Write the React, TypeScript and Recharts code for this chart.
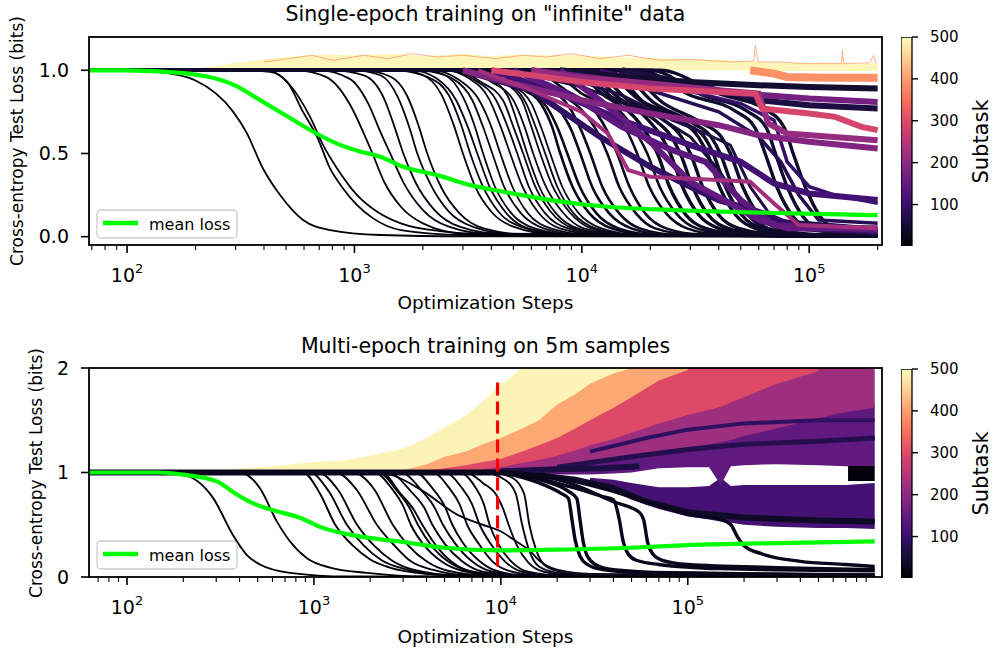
import React from 'react';
import { ComposedChart, BarChart, Bar, Line, Area, XAxis, YAxis } from 'recharts';

type Pt = [number, number];

const FONT = "'DejaVu Sans', 'Liberation Sans', sans-serif";

// ---------------- text ----------------
const topTitle = 'Single-epoch training on "infinite" data';
const bottomTitle = 'Multi-epoch training on 5m samples';
const xLabel = 'Optimization Steps';
const yLabel = 'Cross-entropy Test Loss (bits)';
const legendLabel = 'mean loss';
const cbarLabel = 'Subtask';

// ---------------- axes ----------------
const topXDomain = [68, 209000];
const topYDomain = [-0.05, 1.2];
const topMajorTicks = [100, 1000, 10000, 100000];
const topMinorTicks = [70, 80, 90, 200, 300, 400, 500, 600, 700, 800, 900, 2000, 3000, 4000, 5000, 6000, 7000, 8000, 9000, 20000, 30000, 40000, 50000, 60000, 70000, 80000, 90000, 200000];
const topYTicks = [0, 0.5, 1.0];

const botXDomain = [62.6, 1094000];
const botYDomain = [0, 2];
const botMajorTicks = [100, 1000, 10000, 100000];
const botMinorTicks = [70, 80, 90, 200, 300, 400, 500, 600, 700, 800, 900, 2000, 3000, 4000, 5000, 6000, 7000, 8000, 9000, 20000, 30000, 40000, 50000, 60000, 70000, 80000, 90000, 200000, 300000, 400000, 500000, 600000, 700000, 800000, 900000];
const botYTicks = [0, 1, 2];

const cbarTicks = [100, 200, 300, 400, 500];
const cbarDomain = [1, 500];

// ---------------- top panel: single epoch ----------------
const topMeanLoss: Pt[] = [[68, 1], [100, 1], [171, 0.984], [293, 0.914], [396, 0.81], [521, 0.713], [656, 0.632], [863, 0.552], [1060, 0.512], [1300, 0.48], [1636, 0.42], [2310, 0.37], [3230, 0.31], [4500, 0.27], [7260, 0.22], [12940, 0.18], [25400, 0.16], [40600, 0.15], [85000, 0.14], [200000, 0.13]];

const topBandSteps = [150, 200, 250, 300, 400, 500, 700, 1000, 1500, 2000, 3000, 4000, 5000, 7000, 10000, 15000, 20000, 30000, 40000, 50000, 60000, 70000, 80000, 100000, 130000, 160000, 200000];
const topBandHi = [1.0, 1.01, 1.025, 1.045, 1.065, 1.08, 1.095, 1.09, 1.1, 1.085, 1.1, 1.085, 1.095, 1.09, 1.09, 1.075, 1.075, 1.065, 1.065, 1.055, 1.055, 1.045, 1.045, 1.04, 1.045, 1.035, 1.04];
const topBandLo = [1, 1, 1, 1, 1, 1, 1, 1, 1, 1, 1, 1, 1, 1, 1, 1, 1, 1, 1, 1, 0.995, 0.995, 0.995, 0.995, 0.995, 0.995, 0.995];
const topBandSubtask = 492;

const topSpikes: Pt[] = [[400, 1.05], [650, 1.09], [800, 1.06], [1100, 1.09], [1400, 1.07], [1800, 1.1], [2300, 1.08], [3000, 1.09], [4200, 1.07], [5500, 1.09], [7000, 1.08], [9000, 1.1], [12000, 1.07], [16000, 1.09], [22000, 1.06], [30000, 1.065], [45000, 1.05], [57000, 1.055], [58000, 1.15], [59500, 1.05], [75000, 1.05], [95000, 1.04], [139000, 1.04], [140000, 1.12], [142000, 1.04], [185000, 1.045], [192000, 1.09], [197000, 1.04]];
const topSpikesSubtask = 400;

const topBlack: Pt[][] = [
  [[68, 1], [103, 1], [171, 0.97], [199, 0.94], [293, 0.75], [334, 0.63], [396, 0.41], [471, 0.25], [594, 0.1], [781, 0.04], [1300, 0.01], [3000, 0.002], [200000, 0]],
  [[68, 1], [321, 1], [426, 0.99], [506, 0.93], [594, 0.75], [685, 0.6], [781, 0.41], [891, 0.29], [1027, 0.19], [1209, 0.11], [1600, 0.04], [3000, 0.01], [200000, 0]],
  [[68, 1], [413, 1], [521, 0.91], [638, 0.72], [728, 0.55], [839, 0.41], [1027, 0.25], [1259, 0.15], [1600, 0.08], [2500, 0.03], [5000, 0.005], [200000, 0]],
  [[68, 1], [560, 1], [750, 0.96], [950, 0.8], [1100, 0.62], [1200, 0.5], [1350, 0.33], [1600, 0.18], [2000, 0.08], [3000, 0.02], [200000, 0]],
  [[68, 1], [700, 1], [950, 0.95], [1150, 0.8], [1300, 0.63], [1436, 0.5], [1650, 0.32], [2000, 0.16], [2600, 0.06], [4000, 0.015], [200000, 0]],
  [[68, 1], [800, 1], [1100, 0.97], [1350, 0.83], [1500, 0.66], [1640, 0.5], [1850, 0.33], [2250, 0.16], [2900, 0.06], [4500, 0.015], [200000, 0]],
  [[68, 1], [1000, 1], [1300, 0.97], [1550, 0.84], [1750, 0.65], [1890, 0.5], [2150, 0.32], [2600, 0.15], [3300, 0.06], [5000, 0.015], [200000, 0]],
  [[68, 1], [1100, 1], [1450, 0.96], [1700, 0.85], [1900, 0.68], [2090, 0.5], [2400, 0.3], [2900, 0.14], [3700, 0.05], [6000, 0.01], [200000, 0]],
  [[68, 1], [1500, 1], [2000, 0.97], [2400, 0.86], [2750, 0.66], [3000, 0.5], [3400, 0.3], [4000, 0.15], [5000, 0.06], [7500, 0.015], [200000, 0]],
  [[68, 1], [1600, 1], [2100, 0.96], [2600, 0.85], [2950, 0.67], [3230, 0.5], [3650, 0.31], [4300, 0.15], [5400, 0.06], [8000, 0.015], [200000, 0]],
  [[68, 1], [1800, 1], [2300, 0.95], [2800, 0.82], [3150, 0.66], [3470, 0.5], [3900, 0.31], [4600, 0.15], [5800, 0.05], [9000, 0.01], [200000, 0]],
  [[68, 1], [1900, 1], [2500, 0.97], [3000, 0.84], [3350, 0.68], [3680, 0.5], [4150, 0.3], [4900, 0.14], [6200, 0.05], [9500, 0.01], [200000, 0]],
  [[68, 1], [2000, 1], [2700, 0.95], [3300, 0.82], [3700, 0.65], [4040, 0.5], [4550, 0.3], [5400, 0.14], [6800, 0.05], [10000, 0.01], [200000, 0]],
  [[68, 1], [2200, 1], [2900, 0.94], [3500, 0.83], [4000, 0.66], [4380, 0.5], [4950, 0.3], [5800, 0.14], [7300, 0.05], [11000, 0.01], [200000, 0]],
  [[68, 1], [2500, 1], [3200, 0.95], [3900, 0.83], [4400, 0.66], [4840, 0.5], [5450, 0.31], [6400, 0.15], [8000, 0.05], [12000, 0.012], [200000, 0]],
  [[68, 1], [2600, 1], [3400, 0.94], [4200, 0.82], [4750, 0.65], [5200, 0.5], [5850, 0.3], [6900, 0.14], [8700, 0.05], [13000, 0.01], [200000, 0]],
  [[68, 1], [2800, 1], [3600, 0.93], [4500, 0.82], [5000, 0.66], [5520, 0.5], [6200, 0.31], [7300, 0.15], [9200, 0.05], [14000, 0.01], [200000, 0]],
  [[68, 1], [3000, 1], [3800, 0.96], [4700, 0.85], [5250, 0.67], [5750, 0.5], [6500, 0.3], [7700, 0.14], [9600, 0.05], [14500, 0.01], [200000, 0]],
  [[68, 1], [3100, 1], [4000, 0.93], [5000, 0.82], [5600, 0.66], [6110, 0.5], [6900, 0.31], [8200, 0.15], [10200, 0.05], [15500, 0.012], [200000, 0]],
  [[68, 1], [3300, 1], [4300, 0.94], [5400, 0.83], [6000, 0.66], [6560, 0.5], [7400, 0.31], [8800, 0.15], [11000, 0.05], [16500, 0.01], [200000, 0]],
  [[68, 1], [3500, 1], [4600, 0.93], [5700, 0.8], [6300, 0.65], [6900, 0.5], [7800, 0.3], [9200, 0.14], [11500, 0.05], [17000, 0.01], [200000, 0]],
  [[68, 1], [3700, 1], [4800, 0.92], [6000, 0.8], [6650, 0.65], [7260, 0.5], [8200, 0.3], [9700, 0.14], [12200, 0.05], [18000, 0.01], [200000, 0]],
  [[68, 1], [4000, 1], [5300, 0.9], [6600, 0.8], [7400, 0.66], [8040, 0.5], [9100, 0.3], [10800, 0.14], [13500, 0.05], [20000, 0.01], [200000, 0]],
  [[68, 1], [4200, 1], [5600, 0.88], [7000, 0.78], [7900, 0.64], [8630, 0.5], [9800, 0.3], [11600, 0.14], [14500, 0.05], [21000, 0.012], [200000, 0]],
  [[68, 1], [4500, 1], [6000, 0.9], [7800, 0.78], [9000, 0.64], [9840, 0.5], [11100, 0.3], [13200, 0.14], [16500, 0.05], [24000, 0.01], [200000, 0]],
  [[68, 1], [5000, 1], [6800, 0.9], [8800, 0.78], [10000, 0.63], [10900, 0.5], [12300, 0.3], [14600, 0.14], [18000, 0.05], [26000, 0.012], [200000, 0]],
  [[68, 1], [5500, 1], [7500, 0.88], [10000, 0.76], [11800, 0.62], [12940, 0.5], [14600, 0.3], [17300, 0.14], [21000, 0.05], [30000, 0.015], [200000, 0.005]],
  [[68, 1], [6000, 1], [8500, 0.88], [11500, 0.75], [13100, 0.62], [14300, 0.5], [16200, 0.3], [19000, 0.14], [23500, 0.05], [33000, 0.015], [200000, 0.005]],
  [[68, 1], [7000, 1], [10000, 0.86], [14000, 0.74], [16000, 0.62], [17500, 0.5], [19800, 0.3], [23500, 0.14], [29000, 0.05], [40000, 0.015], [200000, 0.005]],
  [[68, 1], [8000, 1], [11000, 0.85], [15500, 0.72], [17800, 0.6], [19400, 0.5], [22000, 0.3], [26000, 0.14], [32000, 0.05], [45000, 0.015], [200000, 0.005]],
  [[68, 1], [9000, 1], [12500, 0.85], [17000, 0.72], [19700, 0.6], [21500, 0.5], [24300, 0.3], [28700, 0.13], [35000, 0.05], [50000, 0.015], [200000, 0.005]],
  [[68, 1], [9500, 1], [13500, 0.84], [19000, 0.72], [22400, 0.6], [24500, 0.5], [27700, 0.3], [32700, 0.13], [40000, 0.05], [56000, 0.015], [200000, 0.005]],
  [[68, 1], [10000, 1], [15000, 0.82], [21000, 0.7], [24800, 0.6], [27100, 0.5], [30700, 0.3], [36000, 0.13], [44000, 0.05], [62000, 0.015], [200000, 0.005]],
  [[68, 1], [11000, 1], [16000, 0.82], [23000, 0.7], [27400, 0.6], [30000, 0.5], [34000, 0.3], [40000, 0.13], [49000, 0.05], [70000, 0.015], [200000, 0.005]],
  [[68, 1], [12000, 1], [18000, 0.82], [27000, 0.7], [32500, 0.6], [35600, 0.5], [40300, 0.3], [47500, 0.13], [58000, 0.05], [80000, 0.015], [200000, 0.005]],
  [[68, 1], [13000, 1], [19000, 0.8], [28500, 0.68], [34500, 0.6], [37800, 0.5], [42800, 0.3], [50500, 0.13], [62000, 0.05], [85000, 0.015], [200000, 0.005]],
  [[68, 1], [14000, 1], [21000, 0.8], [31000, 0.68], [37000, 0.6], [40600, 0.5], [46000, 0.3], [54000, 0.13], [66000, 0.05], [90000, 0.015], [200000, 0.005]],
  [[68, 1], [15000, 1], [23000, 0.8], [34000, 0.68], [41000, 0.6], [45000, 0.5], [51000, 0.3], [60000, 0.13], [73000, 0.05], [100000, 0.015], [200000, 0.005]],
  [[68, 1], [18000, 1], [30000, 0.85], [48000, 0.75], [58000, 0.65], [64000, 0.5], [72000, 0.3], [85000, 0.12], [105000, 0.04], [200000, 0.01]],
  [[68, 1], [20000, 1], [34000, 0.85], [54000, 0.75], [65000, 0.65], [71000, 0.5], [80000, 0.3], [94000, 0.12], [115000, 0.04], [200000, 0.01]],
  [[68, 1], [22000, 1], [40000, 0.86], [65000, 0.76], [78000, 0.65], [85000, 0.5], [96000, 0.3], [112000, 0.12], [135000, 0.04], [200000, 0.02]],
];
const topBlackSubtasks = [1, 2, 3, 4, 5, 6, 7, 8, 9, 10, 11, 12, 13, 14, 15, 16, 17, 18, 19, 20, 21, 22, 23, 24, 25, 26, 27, 28, 29, 30, 31, 32, 33, 34, 35, 36, 37, 38, 39, 40, 41];

const topColored: Pt[][] = [
  [[5000, 1], [10000, 0.9], [20000, 0.75], [30000, 0.6], [40000, 0.4], [50000, 0.2], [60000, 0.08], [200000, 0.04]],
  [[7000, 1], [15000, 0.85], [25000, 0.7], [35000, 0.62], [45000, 0.55], [55000, 0.3], [70000, 0.1], [200000, 0.05]],
  [[10000, 1], [20000, 0.88], [40000, 0.75], [60000, 0.6], [75000, 0.45], [90000, 0.25], [110000, 0.1], [200000, 0.08]],
  [[12000, 1], [25000, 0.9], [50000, 0.8], [70000, 0.7], [80000, 0.45], [100000, 0.3], [130000, 0.25], [200000, 0.2]],
  [[15000, 1], [30000, 0.92], [60000, 0.82], [100000, 0.79], [200000, 0.77]],
  [[8000, 1], [15000, 0.96], [30000, 0.93], [60000, 0.91], [100000, 0.9], [200000, 0.89]],
  [[3000, 1], [6000, 0.88], [12000, 0.6], [20000, 0.42], [30000, 0.3], [40000, 0.22], [60000, 0.15], [90000, 0.05], [200000, 0.03]],
  [[4000, 1], [8000, 0.86], [15000, 0.7], [30000, 0.55], [50000, 0.45], [70000, 0.32], [100000, 0.26], [200000, 0.22]],
  [[5000, 1], [9000, 0.85], [15000, 0.66], [25000, 0.52], [35000, 0.45], [50000, 0.22], [70000, 0.07], [200000, 0.04]],
  [[8000, 1], [12000, 0.82], [20000, 0.57], [30000, 0.33], [45000, 0.2], [60000, 0.1], [80000, 0.05], [200000, 0.05]],
  [[6000, 1], [12000, 0.95], [25000, 0.9], [50000, 0.86], [100000, 0.83], [200000, 0.81]],
  [[3000, 1], [5000, 0.92], [10000, 0.82], [20000, 0.74], [40000, 0.67], [60000, 0.61], [100000, 0.57], [200000, 0.53]],
  [[6000, 1], [9000, 0.96], [20000, 0.92], [40000, 0.88], [60000, 0.86], [66000, 0.68], [80000, 0.62], [200000, 0.58]],
  [[3500, 1], [6000, 0.88], [10000, 0.75], [13000, 0.62], [16000, 0.4], [20000, 0.36], [40000, 0.34], [55000, 0.33], [70000, 0.2], [90000, 0.07], [200000, 0.05]],
  [[4000, 1], [6000, 0.97], [10000, 0.93], [20000, 0.89], [40000, 0.87], [58000, 0.86], [62000, 0.77], [100000, 0.74], [130000, 0.72], [170000, 0.66], [200000, 0.64]],
  [[55000, 1], [70000, 0.98], [80000, 0.96], [120000, 0.955], [200000, 0.955]],
];
const topColoredSubtasks = [50, 65, 75, 95, 60, 45, 90, 110, 140, 150, 170, 190, 210, 225, 290, 385];
const topColoredWidths = [3, 3, 3.5, 3.5, 6, 6, 6, 6, 6, 6, 6, 6, 6, 4, 6, 8];

// ---------------- bottom panel: multi epoch ----------------
const botMeanLoss: Pt[] = [[63, 1], [150, 1], [199, 0.98], [302, 0.915], [386, 0.79], [494, 0.69], [632, 0.63], [847, 0.565], [1115, 0.47], [1560, 0.405], [2340, 0.357], [2860, 0.34], [5000, 0.28], [9600, 0.255], [20000, 0.262], [50000, 0.28], [100000, 0.305], [300000, 0.325], [1000000, 0.34]];
const botDashedLine: Pt[] = [[9600, 0.1], [9600, 1.87]];

const botBandSteps = [150, 200, 300, 400, 600, 1000, 1500, 2000, 3000, 4000, 5000, 6500, 8000, 10000, 13000, 16000, 20000, 25000, 30000, 40000, 50000, 70000, 100000, 130000, 150000, 170000, 200000, 300000, 500000, 700000, 1000000];
const N = null;
const bandYLo = [1, 1, 1, 1, 1, 1, 1, 1, 1.02, 1.08, 1.15, 1.2, 1.27, 1.33, 1.42, 1.5, 1.65, 1.75, 1.85, 1.95, 2.0, N, N, N, N, N, N, N, N, N, N];
const bandYHi = [1, 1.005, 1.02, 1.04, 1.06, 1.1, 1.12, 1.16, 1.23, 1.33, 1.43, 1.55, 1.68, 1.84, 2, 2, 2, 2, 2, 2, 2, N, N, N, N, N, N, N, N, N, N];
const bandOLo = [N, N, N, N, N, N, N, 1.0, 1.0, 1.02, 1.04, 1.07, 1.1, 1.13, 1.2, 1.26, 1.33, 1.42, 1.5, 1.62, 1.72, 1.88, 1.98, N, N, N, N, N, N, N, N];
const bandOHi = [N, N, N, N, N, N, N, 1.02, 1.06, 1.11, 1.17, 1.22, 1.28, 1.34, 1.44, 1.52, 1.66, 1.76, 1.86, 1.95, 2, 2, 2, N, N, N, N, N, N, N, N];
const bandPLo = [N, N, N, N, N, N, N, N, 1.0, 1.0, 1.0, 1.01, 1.03, 1.05, 1.09, 1.12, 1.16, 1.21, 1.26, 1.32, 1.38, 1.47, 1.55, 1.6, 1.63, 1.67, 1.72, 1.85, 1.97, N, N];
const bandPHi = [N, N, N, N, N, N, N, N, 1.02, 1.05, 1.08, 1.11, 1.14, 1.18, 1.24, 1.29, 1.36, 1.45, 1.53, 1.63, 1.74, 1.9, 2, 2, 2, 2, 2, 2, 2, N, N];
const bandMLo = [N, N, N, N, N, N, N, N, N, 1.0, 1.0, 1.0, 1.0, 1.0, 1.02, 1.03, 1.05, 1.07, 1.1, 1.12, 1.15, 1.19, 1.24, 1.27, 1.29, 1.31, 1.35, 1.42, 1.52, 1.58, 1.62];
const bandMHi = [N, N, N, N, N, N, N, N, N, 1.02, 1.04, 1.06, 1.08, 1.1, 1.14, 1.18, 1.22, 1.28, 1.33, 1.4, 1.46, 1.55, 1.64, 1.7, 1.72, 1.75, 1.78, 1.88, 2, 2, 2];
const bandDLo = [N, N, N, N, N, N, N, N, N, N, N, 1.0, 1.0, 0.99, 0.98, 0.98, 0.98, 0.98, 0.98, 0.99, 1.0, 1.04, 1.05, 1.05, 0.88, 1.06, 1.07, 1.08, 1.07, 1.06, 1.05];
const bandDHi = [N, N, N, N, N, N, N, N, N, N, N, 1.02, 1.03, 1.05, 1.08, 1.11, 1.14, 1.18, 1.21, 1.25, 1.29, 1.36, 1.42, 1.46, 1.48, 1.5, 1.53, 1.58, 1.62, 1.64, 1.66];
const bandLLo = [N, N, N, N, N, N, N, N, N, N, N, N, N, N, N, N, N, N, 0.9, 0.82, 0.74, 0.65, 0.58, 0.55, 0.53, 0.52, 0.5, 0.48, 0.47, 0.47, 0.46];
const bandLHi = [N, N, N, N, N, N, N, N, N, N, N, N, N, N, N, N, N, N, 0.95, 0.93, 0.9, 0.86, 0.86, 0.87, 0.95, 0.87, 0.88, 0.88, 0.88, 0.88, 0.9];
const bandKeys = ['L', 'D', 'M', 'P', 'O', 'Y'];
const bandSubtasks = [112, 145, 220, 300, 410, 490];

const botBlack: Pt[][] = [
  [[63, 1], [150, 1], [199, 0.98], [288, 0.76], [369, 0.4], [438, 0.21], [514, 0.12], [745, 0.04], [1500, 0.005], [1000000, 0]],
  [[63, 1], [402, 1], [514, 0.85], [634, 0.53], [745, 0.34], [918, 0.18], [1219, 0.09], [1919, 0.04], [4000, 0.005], [1000000, 0]],
  [[63, 1], [873, 1], [1076, 0.8], [1300, 0.5], [1617, 0.3], [1992, 0.17], [2547, 0.09], [4000, 0.03], [8000, 0.005], [1000000, 0]],
  [[63, 1], [950, 1], [1200, 0.82], [1500, 0.5], [1850, 0.3], [2300, 0.16], [3000, 0.08], [5000, 0.02], [1000000, 0]],
  [[63, 1], [1050, 1], [1350, 0.83], [1700, 0.5], [2100, 0.3], [2600, 0.16], [3400, 0.07], [6000, 0.015], [1000000, 0]],
  [[63, 1], [1300, 1], [1700, 0.83], [2170, 0.5], [2700, 0.3], [3300, 0.15], [4300, 0.07], [7000, 0.015], [1000000, 0]],
  [[63, 1], [1600, 1], [2100, 0.84], [2640, 0.5], [3200, 0.3], [4000, 0.15], [5200, 0.06], [8500, 0.015], [1000000, 0]],
  [[63, 1], [2100, 1], [2600, 0.85], [3000, 0.68], [3300, 0.5], [3900, 0.3], [4800, 0.15], [6200, 0.06], [10000, 0.015], [1000000, 0]],
  [[63, 1], [2200, 1], [2800, 0.82], [3250, 0.66], [3600, 0.5], [4250, 0.3], [5200, 0.15], [6700, 0.06], [11000, 0.015], [1000000, 0]],
  [[63, 1], [2300, 1], [2900, 0.8], [3400, 0.65], [3800, 0.5], [4500, 0.3], [5500, 0.14], [7000, 0.05], [11000, 0.01], [1000000, 0]],
  [[63, 1], [2500, 1], [3300, 0.82], [3900, 0.66], [4300, 0.5], [5000, 0.32], [6200, 0.15], [8000, 0.05], [13000, 0.01], [1000000, 0]],
  [[63, 1], [2900, 1], [3800, 0.82], [4400, 0.67], [4900, 0.5], [5700, 0.32], [7000, 0.15], [9000, 0.05], [14000, 0.01], [1000000, 0]],
  [[63, 1], [3500, 1], [4300, 0.85], [5000, 0.68], [5500, 0.5], [6300, 0.32], [7700, 0.15], [9800, 0.05], [15000, 0.01], [1000000, 0]],
  [[63, 1], [4300, 1], [5300, 0.85], [6000, 0.7], [6600, 0.5], [7600, 0.32], [9000, 0.15], [11500, 0.05], [17000, 0.01], [1000000, 0]],
  [[63, 1], [5000, 1], [6200, 0.85], [7000, 0.7], [7700, 0.5], [8800, 0.32], [10500, 0.15], [13000, 0.05], [20000, 0.01], [1000000, 0]],
  [[63, 1], [6000, 1], [7300, 0.86], [8100, 0.7], [8700, 0.5], [9800, 0.3], [11500, 0.14], [14000, 0.05], [22000, 0.01], [1000000, 0]],
  [[63, 1], [2000, 1], [2550, 0.98], [3850, 0.82], [5800, 0.6], [8000, 0.5], [9900, 0.44], [12100, 0.34], [14300, 0.25], [16200, 0.15], [20000, 0.07], [30000, 0.03], [1000000, 0.01]],
  [[63, 1], [6500, 1], [8000, 0.9], [9500, 0.78], [10300, 0.65], [11000, 0.5], [12200, 0.3], [14000, 0.14], [17000, 0.05], [26000, 0.01], [1000000, 0]],
  [[63, 1], [8000, 1], [10500, 0.93], [12000, 0.8], [13000, 0.5], [14200, 0.25], [16000, 0.1], [20000, 0.04], [30000, 0.01], [1000000, 0]],
  [[63, 1], [9000, 1], [11500, 0.95], [13300, 0.8], [14200, 0.5], [15500, 0.25], [17500, 0.1], [22000, 0.04], [35000, 0.01], [1000000, 0]],
  [[63, 1], [9000, 1], [16000, 0.9], [21000, 0.8], [23000, 0.75], [24000, 0.55], [25000, 0.35], [26500, 0.2], [29000, 0.12], [35000, 0.07], [60000, 0.04], [1000000, 0.02]],
  [[63, 1], [10000, 1], [17000, 0.92], [23000, 0.82], [25500, 0.75], [26500, 0.55], [27500, 0.35], [29000, 0.2], [32000, 0.12], [40000, 0.07], [80000, 0.04], [1000000, 0.02]],
  [[63, 1], [9000, 1], [15000, 0.95], [25000, 0.85], [35000, 0.77], [40000, 0.74], [43000, 0.55], [45000, 0.35], [48000, 0.22], [53000, 0.16], [70000, 0.12], [150000, 0.08], [1000000, 0.06]],
  [[63, 1], [10000, 1], [16000, 0.97], [25000, 0.88], [40000, 0.72], [55000, 0.62], [58000, 0.55], [61000, 0.33], [65000, 0.22], [73000, 0.16], [100000, 0.12], [300000, 0.09], [1000000, 0.07]],
  [[63, 1], [10000, 1], [20000, 0.95], [40000, 0.82], [70000, 0.68], [100000, 0.6], [150000, 0.55], [170000, 0.5], [185000, 0.38], [200000, 0.3], [250000, 0.22], [400000, 0.15], [700000, 0.12], [1000000, 0.1]],
];
const botBlackSubtasks = [1, 2, 3, 4, 5, 6, 7, 8, 9, 10, 11, 12, 13, 14, 15, 16, 17, 18, 19, 20, 21, 22, 23, 24, 25];

const botDark: Pt[][] = [
  [[63, 1], [12000, 1], [25000, 0.93], [40000, 0.85], [60000, 0.72], [100000, 0.62], [200000, 0.57], [500000, 0.54], [1000000, 0.53]],
  [[20000, 1.05], [50000, 1.15], [100000, 1.22], [200000, 1.27], [500000, 1.3], [1000000, 1.33]],
  [[30000, 1.2], [60000, 1.33], [100000, 1.41], [200000, 1.47], [500000, 1.5], [1000000, 1.5]],
  [[10000, 1.01], [20000, 1.03], [35000, 1.04], [55000, 1.06]],
  [[720000, 0.99], [1000000, 0.99]],
];
const botDarkSubtasks = [35, 70, 85, 60, 8];
const botDarkWidths = [6, 5, 4, 6, 15];

// ---------------- styles / helpers ----------------
const MAGMA = ['#000004', '#140e36', '#3b0f70', '#641a80', '#8c2981', '#b73779', '#de4968', '#f7705c', '#fe9f6d', '#fecf92', '#fcfdbf'];
const hexToRgb = (h: string) => [1, 3, 5].map((i) => parseInt(h.slice(i, i + 2), 16));
function magma(t: number): string {
  const c = Math.max(0, Math.min(1, t)) * 10;
  const i = Math.min(9, Math.floor(c));
  const f = c - i;
  const a = hexToRgb(MAGMA[i]);
  const b = hexToRgb(MAGMA[i + 1]);
  const r = a.map((v, k) => Math.round(v + (b[k] - v) * f));
  return `rgb(${r[0]},${r[1]},${r[2]})`;
}
const subColor = (s: number) => magma(s / 500);
const toXY = (pts: Pt[]) => pts.map(([x, y]) => ({ x, y }));
const GREEN = '#00ff00';

const topBandRows = topBandSteps.map((x, i) => ({ x, band: [topBandLo[i], topBandHi[i]] }));
const bandLo: Record<string, (number | null)[]> = { Y: bandYLo, O: bandOLo, P: bandPLo, M: bandMLo, D: bandDLo, L: bandLLo };
const bandHi: Record<string, (number | null)[]> = { Y: bandYHi, O: bandOHi, P: bandPHi, M: bandMHi, D: bandDHi, L: bandLHi };
const botBandRows = botBandSteps.map((x, i) => {
  const row: any = { x };
  bandKeys.forEach((k) => {
    const lo = bandLo[k][i];
    const hi = bandHi[k][i];
    row[k] = lo == null || hi == null ? null : [lo, hi];
  });
  return row;
});

const makeLogTick = (majors: number[]) => (props: any) => {
  const { x, y, payload } = props;
  const v = payload.value;
  const isMajor = majors.includes(v);
  const exp = Math.round(Math.log10(v));
  return (
    <g>
      <line x1={x} x2={x} y1={y} y2={y + (isMajor ? 8 : 5)} stroke="#000" strokeWidth={isMajor ? 1.6 : 1.1} />
      {isMajor && (
        <text x={x} y={y + 37} textAnchor="middle" fontSize={19} fontFamily={FONT} fill="#000">
          10<tspan dy={-9} fontSize={13}>{exp}</tspan>
        </text>
      )}
    </g>
  );
};

const allTicks = (a: number[], b: number[]) => [...a, ...b].sort((p, q) => p - q);

const lineProps = { dot: false, activeDot: false, isAnimationActive: false, dataKey: 'y' } as const;

function TopPanel() {
  return (
    <div style={{ position: 'absolute', left: 0, top: 0 }}>
      <ComposedChart width={995} height={330} data={topBandRows} margin={{ top: 37, right: 113, bottom: 0, left: 0 }}>
        <XAxis dataKey="x" type="number" scale="log" domain={topXDomain} allowDataOverflow ticks={allTicks(topMajorTicks, topMinorTicks)} interval={0} tickLine={false} axisLine={false} tickSize={0} tickMargin={0} height={85} tick={makeLogTick(topMajorTicks)} />
        <YAxis type="number" domain={topYDomain} allowDataOverflow ticks={topYTicks} interval={0} tickFormatter={(v: number) => v.toFixed(1)} width={89} tickSize={8} tickMargin={12} axisLine={false} tickLine={{ stroke: '#000', strokeWidth: 1.6 }} tick={{ fontSize: 19, fill: '#000', fontFamily: FONT }} />
        <Area dataKey="band" type="linear" stroke="none" fill={subColor(topBandSubtask)} fillOpacity={1} isAnimationActive={false} dot={false} activeDot={false} />
        <Line {...lineProps} data={toXY(topSpikes)} type="linear" stroke={subColor(topSpikesSubtask)} strokeWidth={1} strokeOpacity={0.8} />
        {topBlack.map((pts, i) => (
          <Line key={'tb' + i} {...lineProps} data={toXY(pts)} type="monotone" stroke={subColor(topBlackSubtasks[i])} strokeWidth={i < 22 ? 1.8 : i < 30 ? 2.6 : 3.4} />
        ))}
        {topColored.map((pts, i) => (
          <Line key={'tc' + i} {...lineProps} data={toXY(pts)} type="linear" stroke={subColor(topColoredSubtasks[i])} strokeWidth={topColoredWidths[i]} />
        ))}
        <Line {...lineProps} data={toXY(topMeanLoss)} type="monotone" stroke={GREEN} strokeWidth={4.2} />
      </ComposedChart>
    </div>
  );
}

function BottomPanel() {
  return (
    <div style={{ position: 'absolute', left: 0, top: 330 }}>
      <ComposedChart width={995} height={321} data={botBandRows} margin={{ top: 38, right: 113, bottom: 0, left: 0 }}>
        <XAxis dataKey="x" type="number" scale="log" domain={botXDomain} allowDataOverflow ticks={allTicks(botMajorTicks, botMinorTicks)} interval={0} tickLine={false} axisLine={false} tickSize={0} tickMargin={0} height={74} tick={makeLogTick(botMajorTicks)} />
        <YAxis type="number" domain={botYDomain} allowDataOverflow ticks={botYTicks} interval={0} width={89} tickSize={8} tickMargin={12} axisLine={false} tickLine={{ stroke: '#000', strokeWidth: 1.6 }} tick={{ fontSize: 19, fill: '#000', fontFamily: FONT }} />
        {bandKeys.map((k, i) => (
          <Area key={'band' + k} dataKey={k} type="linear" stroke="none" fill={subColor(bandSubtasks[i])} fillOpacity={1} isAnimationActive={false} dot={false} activeDot={false} />
        ))}
        {botDark.map((pts, i) => (
          <Line key={'bd' + i} {...lineProps} data={toXY(pts)} type="linear" stroke={subColor(botDarkSubtasks[i])} strokeWidth={botDarkWidths[i]} />
        ))}
        {botBlack.map((pts, i) => (
          <Line key={'bb' + i} {...lineProps} data={toXY(pts)} type="monotone" stroke={subColor(botBlackSubtasks[i])} strokeWidth={i < 20 ? 1.9 : 3.4} />
        ))}
        <Line {...lineProps} data={toXY(botMeanLoss)} type="monotone" stroke={GREEN} strokeWidth={4.2} />
        <Line {...lineProps} data={toXY(botDashedLine)} type="linear" stroke="#ff0000" strokeWidth={3.2} strokeDasharray="13 6" />
      </ComposedChart>
    </div>
  );
}

const cbarData = [{ name: 'cbar', v: 500 }];

function ColorBar({ top, height, plotTop, plotBottom, id }: { top: number; height: number; plotTop: number; plotBottom: number; id: string }) {
  return (
    <div style={{ position: 'absolute', left: 901, top }}>
      <BarChart width={94} height={height} data={cbarData} margin={{ top: plotTop, right: 0, bottom: height - plotBottom, left: 0 }} barCategoryGap={0}>
        <defs>
          <linearGradient id={id} x1="0" y1="1" x2="0" y2="0">
            {MAGMA.map((c, i) => (
              <stop key={i} offset={i / 10} stopColor={c} />
            ))}
          </linearGradient>
        </defs>
        <XAxis dataKey="name" hide />
        <YAxis orientation="right" type="number" domain={cbarDomain} allowDataOverflow ticks={cbarTicks} interval={0} width={83} tickSize={6} tickMargin={12} axisLine={false} tickLine={{ stroke: '#000', strokeWidth: 1.4 }} tick={{ fontSize: 15, fill: '#000', fontFamily: FONT }} />
        <Bar dataKey="v" fill={`url(#${id})`} stroke="#000" strokeWidth={1.3} isAnimationActive={false} />
      </BarChart>
    </div>
  );
}

function Legend({ x, y }: { x: number; y: number }) {
  return (
    <g>
      <rect x={x} y={y} width={140} height={28} rx={4} fill="#fff" fillOpacity={0.85} stroke="#cccccc" strokeWidth={1.3} />
      <line x1={x + 6} x2={x + 41} y1={y + 13} y2={y + 13} stroke={GREEN} strokeWidth={4.5} />
      <text x={x + 52} y={y + 19.5} fontSize={16} fontFamily={FONT} fill="#000">{legendLabel}</text>
    </g>
  );
}

export default function App() {
  return (
    <div style={{ position: 'absolute', left: 0, top: 0, width: 995, height: 651, background: '#fff', fontFamily: FONT, overflow: 'hidden' }}>
      <TopPanel />
      <BottomPanel />
      <ColorBar top={0} height={330} plotTop={37} plotBottom={246} id="magmaTop" />
      <ColorBar top={330} height={321} plotTop={39} plotBottom={248} id="magmaBot" />
      <svg width={995} height={651} style={{ position: 'absolute', left: 0, top: 0, pointerEvents: 'none' }}>
        <rect x={89} y={37} width={793} height={208} fill="none" stroke="#000" strokeWidth={1.8} />
        <rect x={89} y={368} width={793} height={209} fill="none" stroke="#000" strokeWidth={1.8} />
        <Legend x={97} y={210} />
        <Legend x={97} y={541} />
        <text x={485.5} y={20.5} textAnchor="middle" fontSize={20.5} fontFamily={FONT} fill="#000">{topTitle}</text>
        <text x={485.5} y={352.5} textAnchor="middle" fontSize={20.5} fontFamily={FONT} fill="#000">{bottomTitle}</text>
        <text x={485.5} y={309} textAnchor="middle" fontSize={18.5} fontFamily={FONT} fill="#000">{xLabel}</text>
        <text x={485.5} y={643} textAnchor="middle" fontSize={18.5} fontFamily={FONT} fill="#000">{xLabel}</text>
        <text x={17} y={141} textAnchor="middle" dominantBaseline="central" fontSize={17} fontFamily={FONT} fill="#000" transform="rotate(-90 17 141)">{yLabel}</text>
        <text x={36} y={473} textAnchor="middle" dominantBaseline="central" fontSize={17} fontFamily={FONT} fill="#000" transform="rotate(-90 36 473)">{yLabel}</text>
        <text x={981} y={141.5} textAnchor="middle" dominantBaseline="central" fontSize={21} fontFamily={FONT} fill="#000" transform="rotate(-90 981 141.5)">{cbarLabel}</text>
        <text x={981} y={473.5} textAnchor="middle" dominantBaseline="central" fontSize={21} fontFamily={FONT} fill="#000" transform="rotate(-90 981 473.5)">{cbarLabel}</text>
      </svg>
    </div>
  );
}
